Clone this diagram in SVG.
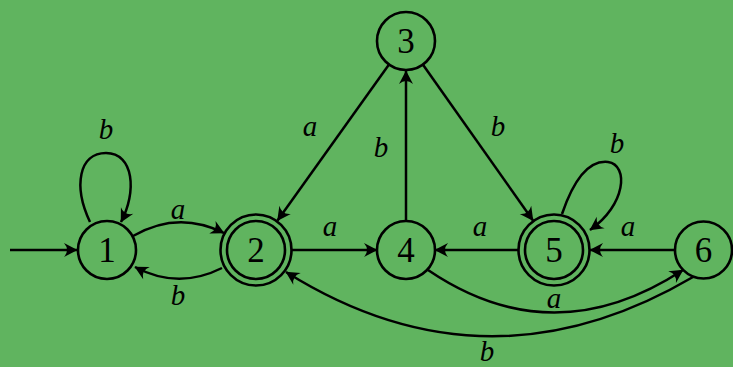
<svg xmlns="http://www.w3.org/2000/svg" width="733" height="367" viewBox="0 0 733 367">
<style>
.bg{fill:#60b45f}
.node circle{fill:none;stroke:#000;stroke-width:2.6}
.node text{font-family:"Liberation Serif","DejaVu Serif",serif;font-size:35px;text-anchor:middle;fill:#000}
.edge{fill:none;stroke:#000;stroke-width:2.5;marker-end:url(#ah)}
.lbl{font-family:"Liberation Serif","DejaVu Serif",serif;font-style:italic;font-size:29px;text-anchor:middle;fill:#000}
</style>
<defs>
<marker id="ah" viewBox="-15 -9 17 18" refX="0" refY="0" markerWidth="17" markerHeight="18" orient="auto" markerUnits="userSpaceOnUse">
<path d="M0.5,0 L-13,-7 Q-7,0 -13,7 Z" fill="#000"/>
</marker>
</defs>
<rect class="bg" x="0" y="0" width="733" height="367"/>
<g id="connectors">
<path class="edge" d="M10,250 L77,250"/>
<path class="edge" d="M90,222 C73,186 79,153 106,153 C134,153 137,192 121,222"/>
<path class="edge" d="M133,236 Q178,210 224,233"/>
<path class="edge" d="M222,268 Q178,290 135,267"/>
<path class="edge" d="M389,64.5 L277.5,220.5"/>
<path class="edge" d="M406,222 L406,71"/>
<path class="edge" d="M423,64.7 L533,220.5"/>
<path class="edge" d="M292,250 L377,250"/>
<path class="edge" d="M518,250 L435,250"/>
<path class="edge" d="M562,214 C575,176 590,160 608,162 C629,165 626,205 590,230"/>
<path class="edge" d="M675,250 L590,250"/>
<path class="edge" d="M428,270 Q553,355 683,270"/>
<path class="edge" d="M693,277 Q487,398 286,272"/>
<text class="lbl" x="106" y="139">b</text>
<text class="lbl" x="178" y="219">a</text>
<text class="lbl" x="178" y="305">b</text>
<text class="lbl" x="310" y="136">a</text>
<text class="lbl" x="381" y="157">b</text>
<text class="lbl" x="498" y="136">b</text>
<text class="lbl" x="330" y="236">a</text>
<text class="lbl" x="480" y="236">a</text>
<text class="lbl" x="617" y="153">b</text>
<text class="lbl" x="628" y="236">a</text>
<text class="lbl" x="554" y="308">a</text>
<text class="lbl" x="487" y="361">b</text>
</g>
<g id="n1" class="node"><circle cx="107" cy="250" r="29"/><text x="107" y="262">1</text></g>
<g id="n2" class="node"><circle cx="256" cy="250" r="35.5"/><circle cx="256" cy="250" r="29"/><text x="256" y="262">2</text></g>
<g id="n3" class="node"><circle cx="406" cy="41" r="29"/><text x="406" y="53">3</text></g>
<g id="n4" class="node"><circle cx="406" cy="250" r="29"/><text x="406" y="262">4</text></g>
<g id="n5" class="node"><circle cx="554" cy="250" r="35.5"/><circle cx="554" cy="250" r="29"/><text x="554" y="262">5</text></g>
<g id="n6" class="node"><circle cx="703.5" cy="250" r="28.5"/><text x="703.5" y="262">6</text></g>
</svg>
